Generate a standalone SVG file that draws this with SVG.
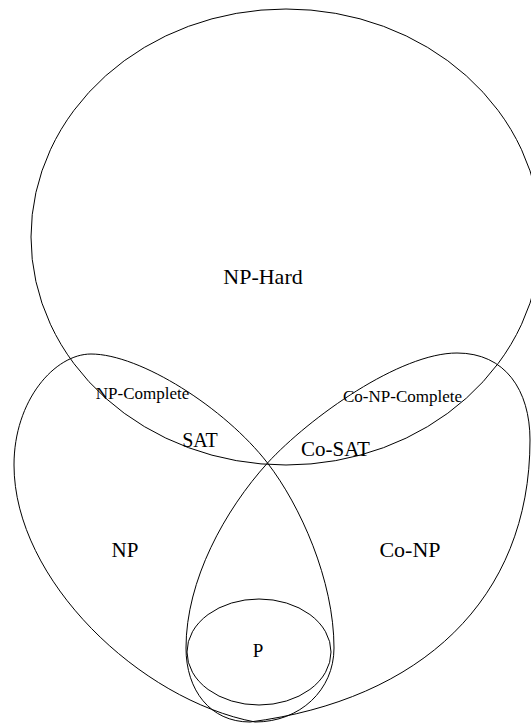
<svg xmlns="http://www.w3.org/2000/svg" width="531" height="723" viewBox="0 0 531 723">
  <style>
    .shape { fill: none; stroke: #000; stroke-width: 1; }
    .lbl { font-family: "Liberation Serif", "Times New Roman", serif; fill: #000; text-anchor: middle; }
  </style>
  <rect x="0" y="0" width="531" height="723" fill="#fff"/>
  <g id="np-hard">
    <ellipse class="shape" cx="286" cy="237" rx="255" ry="228"/>
    <text class="lbl" x="263" y="284" font-size="22">NP-Hard</text>
  </g>
  <g id="np">
    <path class="shape" d="M 91,354 C 55,354 14,400 14,465 C 14,580 140,700 255,722 C 300,722 334,690 334,648 C 334,580 300,505 267.5,463 C 225,408 140,354 91,354 Z"/>
    <text class="lbl" x="125" y="557" font-size="21">NP</text>
  </g>
  <g id="co-np">
    <path class="shape" d="M 457,353 C 505,353 530,390 530,440 C 530,600 420,700 250,722 C 210,722 186,690 186,648 C 186,580 225,510 267.5,463 C 310,417 400,353 457,353 Z"/>
    <text class="lbl" x="410" y="557" font-size="22">Co-NP</text>
  </g>
  <g id="np-complete">
    <text class="lbl" x="142.5" y="399" font-size="17">NP-Complete</text>
  </g>
  <g id="co-np-complete">
    <text class="lbl" x="402.5" y="402" font-size="17">Co-NP-Complete</text>
  </g>
  <g id="sat">
    <text class="lbl" x="200" y="447" font-size="20">SAT</text>
  </g>
  <g id="co-sat">
    <text class="lbl" x="335.5" y="456" font-size="21">Co-SAT</text>
  </g>
  <g id="p">
    <ellipse class="shape" cx="259" cy="652" rx="72" ry="53"/>
    <text class="lbl" x="258" y="657" font-size="19">P</text>
  </g>
  <g id="connectors"></g>
</svg>
